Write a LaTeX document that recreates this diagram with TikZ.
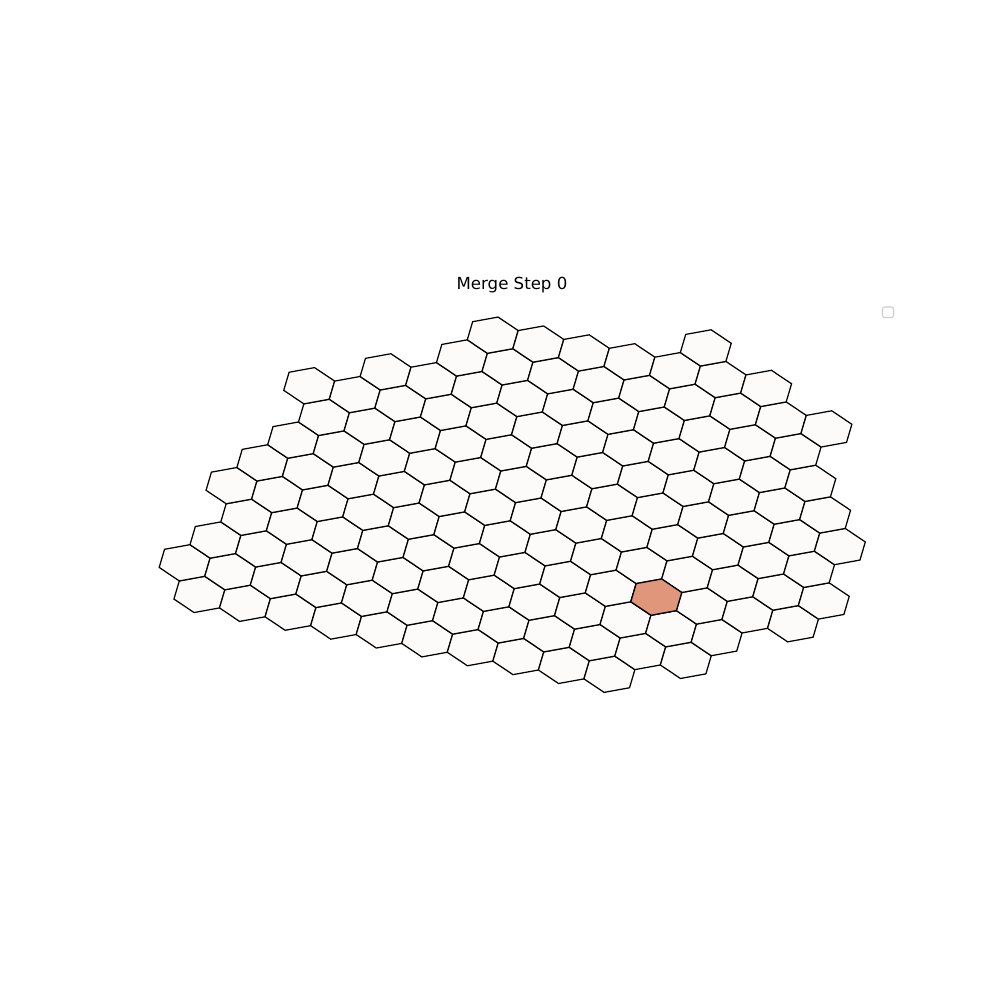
\documentclass[tikz,border=0pt]{standalone}
\usepackage{fontspec}
\setmainfont{DejaVu Sans}
\definecolor{hexfill}{RGB}{252,251,250}
\definecolor{hexhot}{RGB}{224,150,123}
\definecolor{legedge}{RGB}{204,204,204}
\tikzset{
  hexcell/.style={draw=black, fill=hexfill, line width=0.9pt, line join=miter},
  hexmark/.style={draw=black, fill=hexhot, line width=0.9pt, line join=miter},
  titletext/.style={font=\fontsize{12}{14}\selectfont, anchor=base, inner sep=0pt},
  legbox/.style={draw=legedge, fill=white, line width=0.8pt, rounded corners=1.5}
}
\begin{document}
\begin{tikzpicture}[x=0.254mm, y=-0.254mm]
\useasboundingbox (0,0) rectangle (1000,1000);
% hexagonal cells: centre = C0 + a*u + b*w
\foreach \b/\amin/\amax in {-3/-8/1, -2/-9/2, -1/-9/2, 0/-9/3, 1/-10/3, 2/-10/2, 3/-10/2, 4/-10/1, 5/-11/0, 6/-10/-1, 7/-9/-1, 8/-9/-3, 9/-5/-5} {
  \foreach \a in {\amin,...,\amax} {
    \pgfmathsetmacro\cx{656.3+45.56*\a+30.81*\b}
    \pgfmathsetmacro\cy{597.1+8.87*\a-22.76*\b}
    \draw[hexcell, shift={(\cx,\cy)}] (25.46,-4.63) -- (5.35,-18.13) -- (-20.1,-13.5) -- (-25.46,4.63) -- (-5.35,18.13) -- (20.1,13.5) -- cycle;
  }
}
% highlighted cell
\draw[hexmark, shift={(656.3,597.1)}] (25.46,-4.63) -- (5.35,-18.13) -- (-20.1,-13.5) -- (-25.46,4.63) -- (-5.35,18.13) -- (20.1,13.5) -- cycle;
% title
\node[titletext] (title) at (512,289.5) {Merge Step 0};
% empty legend frame
\draw[legbox] (882.5,307) rectangle (893.5,317.5);
\end{tikzpicture}
\end{document}
